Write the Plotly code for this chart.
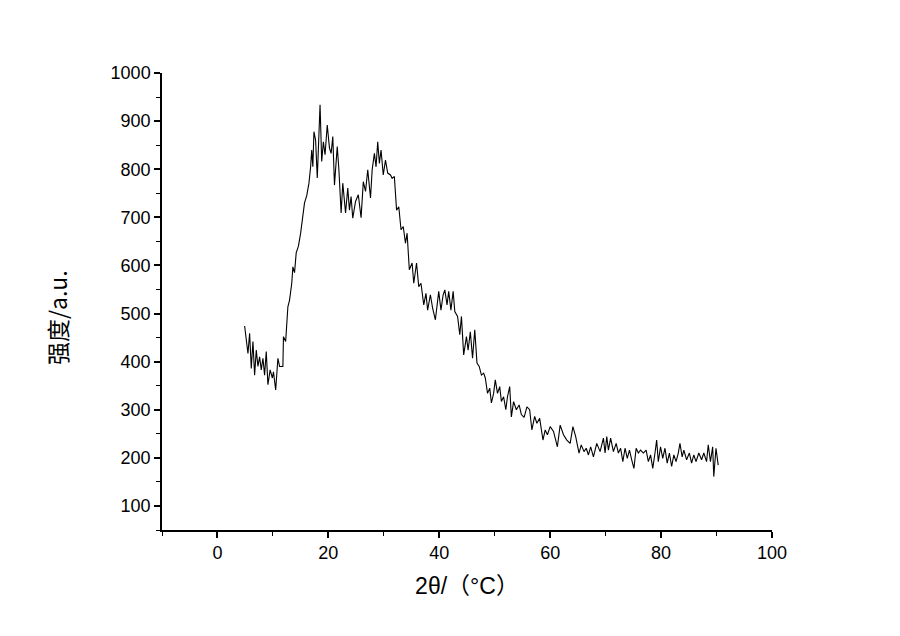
import plotly.graph_objects as go

# 2-theta values (degrees) and intensities
two_theta = [
    4.9, 5.5, 5.8, 6.1, 6.4, 6.7, 7.0, 7.3, 7.6, 7.9, 8.2, 8.5, 8.8, 9.1, 9.5, 9.9,
    10.1, 10.5, 10.9, 11.2, 11.8, 11.9, 12.3, 12.7, 13.0,
    13.4, 13.6, 13.9, 14.2, 14.6, 15.0, 15.4, 15.7, 16.1, 16.5, 16.8, 17.0, 17.2,
    17.4, 17.7, 18.0, 18.5, 18.8, 19.1, 19.4, 19.8, 20.2, 20.5, 20.8, 21.1, 21.6, 21.9,
    22.3, 22.6, 23.1, 23.5, 23.8, 24.1, 24.4, 24.9, 25.4, 25.9, 26.3, 26.7, 27.1,
    27.6, 27.9, 28.3, 28.6, 28.9, 29.2, 29.5, 29.9, 30.3, 30.7, 31.2, 31.5, 31.9,
    32.3, 32.7, 33.1, 33.5, 33.9, 34.2, 34.6, 35.1, 35.4, 35.9, 36.3, 36.7,
    37.2, 37.6, 37.9, 38.4, 38.8, 39.3, 39.6, 39.9, 40.3, 40.7, 41.0, 41.4, 41.7,
    42.1, 42.5, 42.8, 43.3, 43.7, 44.0, 44.4, 44.9, 45.2, 45.6, 46.0, 46.4, 46.8,
    47.2, 47.6, 48.0,
    48.3, 48.7, 49.1, 49.4, 49.8, 50.1, 50.5, 50.9, 51.2, 51.6, 52.0, 52.3, 52.7,
    53.0, 53.4, 53.9, 54.4, 54.8, 55.3, 55.8, 56.3, 56.7, 57.2, 57.6, 58.1, 58.7,
    59.1, 59.5, 60.0, 60.6, 61.3, 61.8, 62.4, 63.0, 63.6, 64.1, 64.6, 65.2, 65.6,
    66.1, 66.5, 66.9,
    67.3, 67.8, 68.4, 69.0, 69.6, 69.9, 70.2, 70.5, 70.9, 71.4, 71.9, 72.3, 72.7,
    73.1, 73.5, 73.9, 74.3, 74.7, 75.1, 75.5, 75.9, 76.3, 76.8, 77.3, 77.7, 78.1,
    78.5, 78.9, 79.2, 79.5, 79.9, 80.3, 80.7, 81.1, 81.5, 81.9, 82.3, 82.7, 83.1,
    83.4, 83.8, 84.1, 84.6, 85.1, 85.5, 85.9, 86.3, 86.8, 87.3, 87.7, 88.2, 88.5,
    88.9, 89.3, 89.5, 89.9, 90.3,
]
intensity = [
    474, 417, 459, 386, 442, 372, 424, 390, 410, 383, 407, 372, 421, 352, 383, 366,
    379, 341, 407, 390, 390, 452, 442, 514, 528,
    563, 597, 585, 626, 640, 667, 709, 730, 745, 771, 805, 840, 805,
    878, 860, 782, 934, 816, 857, 830, 892, 844, 833, 868, 767, 847, 799,
    709, 771, 709, 761, 715, 743, 698, 733, 747, 699, 774, 754, 799,
    740, 799, 833, 805, 857, 812, 840, 788, 819, 792, 788, 781, 785,
    715, 722, 674, 681, 646, 667, 591, 605, 563, 605, 556, 563,
    518, 542, 507, 539, 511, 487, 521, 546, 507, 539, 549, 518, 546,
    507, 546, 504, 494, 456, 494, 414, 452, 424, 462, 407, 466, 397,
    390, 372, 376,
    366, 334, 345, 314, 334, 362, 334, 348, 317, 327, 300, 327, 348,
    285, 317, 300, 310, 290, 284, 306, 300, 258, 286, 272, 282, 237,
    258, 248, 265, 255, 223, 268, 248, 237, 230, 265, 244, 210, 227,
    213, 220, 206,
    223, 202, 230, 213, 241, 210, 244, 216, 241, 213, 230, 210, 220,
    192, 220, 199, 216, 196, 178, 220, 210, 216, 210, 216, 192, 206,
    178, 210, 237, 192, 223, 199, 220, 189, 210, 182, 206, 192, 210,
    230, 202, 216, 196, 210, 189, 206, 192, 210, 196, 210, 192, 227,
    192, 223, 161, 220, 185,
]

x_title = "2θ/（°C）"
y_title = "强度/a.u."

fig = go.Figure()
fig.add_trace(go.Scatter(x=two_theta, y=intensity, mode="lines",
                         line=dict(color="black", width=1.1), showlegend=False))

axis_font = dict(family="Liberation Sans, Arial, sans-serif", size=18, color="black")

fig.update_layout(
    width=900, height=636,
    margin=dict(l=154, r=136, t=65, b=114),
    plot_bgcolor="white", paper_bgcolor="white",
    xaxis=dict(
        range=[-10, 100], tick0=0, dtick=20,
        showline=True, linecolor="black", linewidth=1.5,
        ticks="outside", ticklen=6, tickwidth=1.5, tickcolor="black",
        minor=dict(dtick=10, tick0=0, ticks="outside", ticklen=4, tickwidth=1, tickcolor="black"),
        showgrid=False, zeroline=False, tickfont=axis_font,
        title=dict(text=x_title, standoff=16,
                   font=dict(family="Liberation Sans, Noto Sans CJK SC, sans-serif", size=23, color="black")),
    ),
    yaxis=dict(
        range=[50, 1000], tick0=0, dtick=100,
        showline=True, linecolor="black", linewidth=1.5,
        ticks="outside", ticklen=6, tickwidth=1.5, tickcolor="black",
        minor=dict(dtick=50, tick0=0, ticks="outside", ticklen=4, tickwidth=1, tickcolor="black"),
        showgrid=False, zeroline=False, tickfont=axis_font,
    ),
)

# y title sits a little below the middle of the axis, so place it by hand
fig.add_annotation(text=y_title, textangle=-90, showarrow=False,
                   xref="paper", yref="paper", x=-0.172, y=0.464,
                   xanchor="center", yanchor="middle",
                   font=dict(family="Noto Sans CJK SC, sans-serif", size=23, color="black"))

fig.write_html("out.html")
